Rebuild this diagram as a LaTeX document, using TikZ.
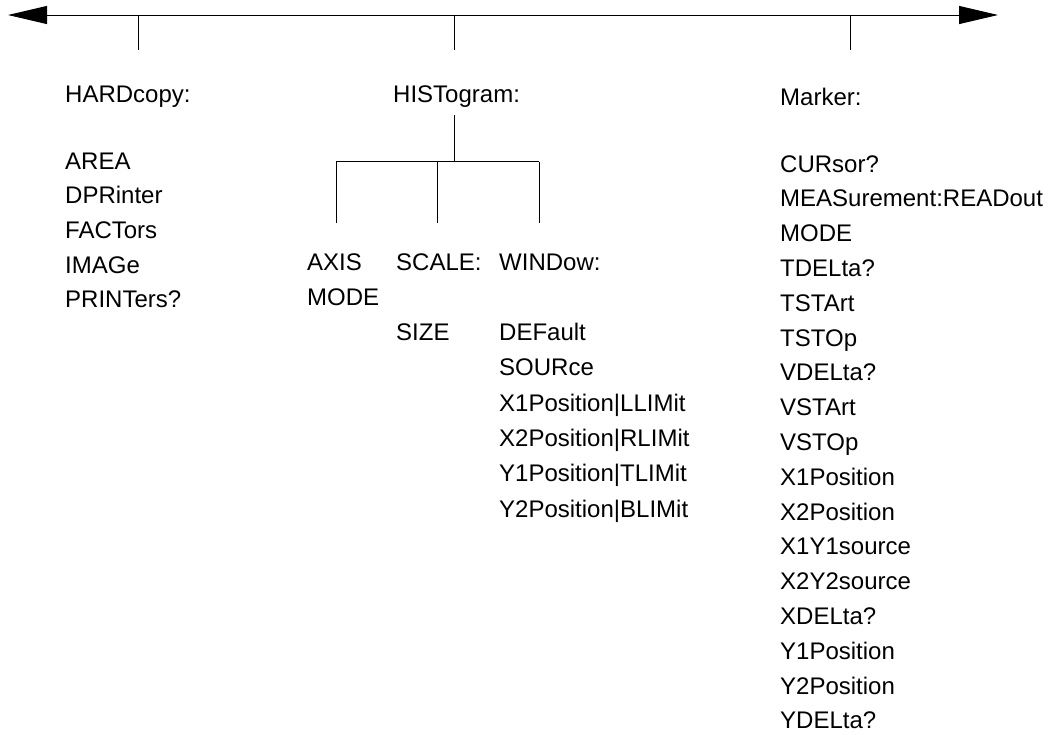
\documentclass[tikz,border=0pt]{standalone}
\usepackage{fontspec}
\setmainfont{Liberation Sans}
\usetikzlibrary{arrows.meta}
\begin{document}
\begin{tikzpicture}[x=1pt,y=-1pt,
  lbl/.style={anchor=base west,inner sep=0pt,font=\fontsize{24}{24}\selectfont},
  wire/.style={line width=1pt},
  axisarrow/.style={line width=1pt,{Triangle[length=39pt,width=18pt]}-{Triangle[length=39pt,width=18pt]}}]
\useasboundingbox (0,0) rectangle (1048,734);
% top axis
\coordinate (L) at (8,15);
\coordinate (R) at (998,15);
\draw[axisarrow] (L) -- (R);
\coordinate (t1) at (138,15); \coordinate (b1) at (138,50);
\coordinate (t2) at (454,15); \coordinate (b2) at (454,50);
\coordinate (t3) at (850,15); \coordinate (b3) at (850,50);
\draw[wire] (t1) -- (b1);
\draw[wire] (t2) -- (b2);
\draw[wire] (t3) -- (b3);
% HARDcopy
\node[lbl] (hard) at (65,102) {HARDcopy:};
\node[lbl] (h1) at (65,169) {AREA};
\node[lbl] (h2) at (65,203.7) {DPRinter};
\node[lbl] (h3) at (65,238.4) {FACTors};
\node[lbl] (h4) at (65,273.1) {IMAGe};
\node[lbl] (h5) at (65,307.8) {PRINTers?};
% HISTogram
\node[lbl] (hist) at (393,102) {HISTogram:};
\coordinate (hs) at (454,115);
\coordinate (hj) at (454,161.5);
\coordinate (jl) at (336,161.5);
\coordinate (jm) at (437,161.5);
\coordinate (jr) at (539,161.5);
\coordinate (dl) at (336,223);
\coordinate (dm) at (437,223);
\coordinate (dr) at (539,223);
\draw[wire] (hs) -- (hj);
\draw[wire] (jl) -- (jr);
\draw[wire] (jl) -- (dl);
\draw[wire] (jm) -- (dm);
\draw[wire] (jr) -- (dr);
\node[lbl] (axis) at (307,270) {AXIS};
\node[lbl] (amode) at (307,305) {MODE};
\node[lbl] (scale) at (396,270) {SCALE:};
\node[lbl] (size) at (396,340.5) {SIZE};
\node[lbl] (window) at (499,270) {WINDow:};
\node[lbl] (w1) at (499,340.5) {DEFault};
\node[lbl] (w2) at (499,375.8) {SOURce};
\node[lbl] (w3) at (499,411.1) {X1Position|LLIMit};
\node[lbl] (w4) at (499,446.4) {X2Position|RLIMit};
\node[lbl] (w5) at (499,481.7) {Y1Position|TLIMit};
\node[lbl] (w6) at (499,517) {Y2Position|BLIMit};
% Marker
\node[lbl] (marker) at (780,105) {Marker:};
\foreach \t [count=\i from 0] in {CURsor?,MEASurement:READout,MODE,TDELta?,TSTArt,TSTOp,VDELta?,VSTArt,VSTOp,X1Position,X2Position,X1Y1source,X2Y2source,XDELta?,Y1Position,Y2Position,YDELta?}
  \node[lbl] (m\i) at (780,172+34.8*\i) {\t};
\end{tikzpicture}
\end{document}
